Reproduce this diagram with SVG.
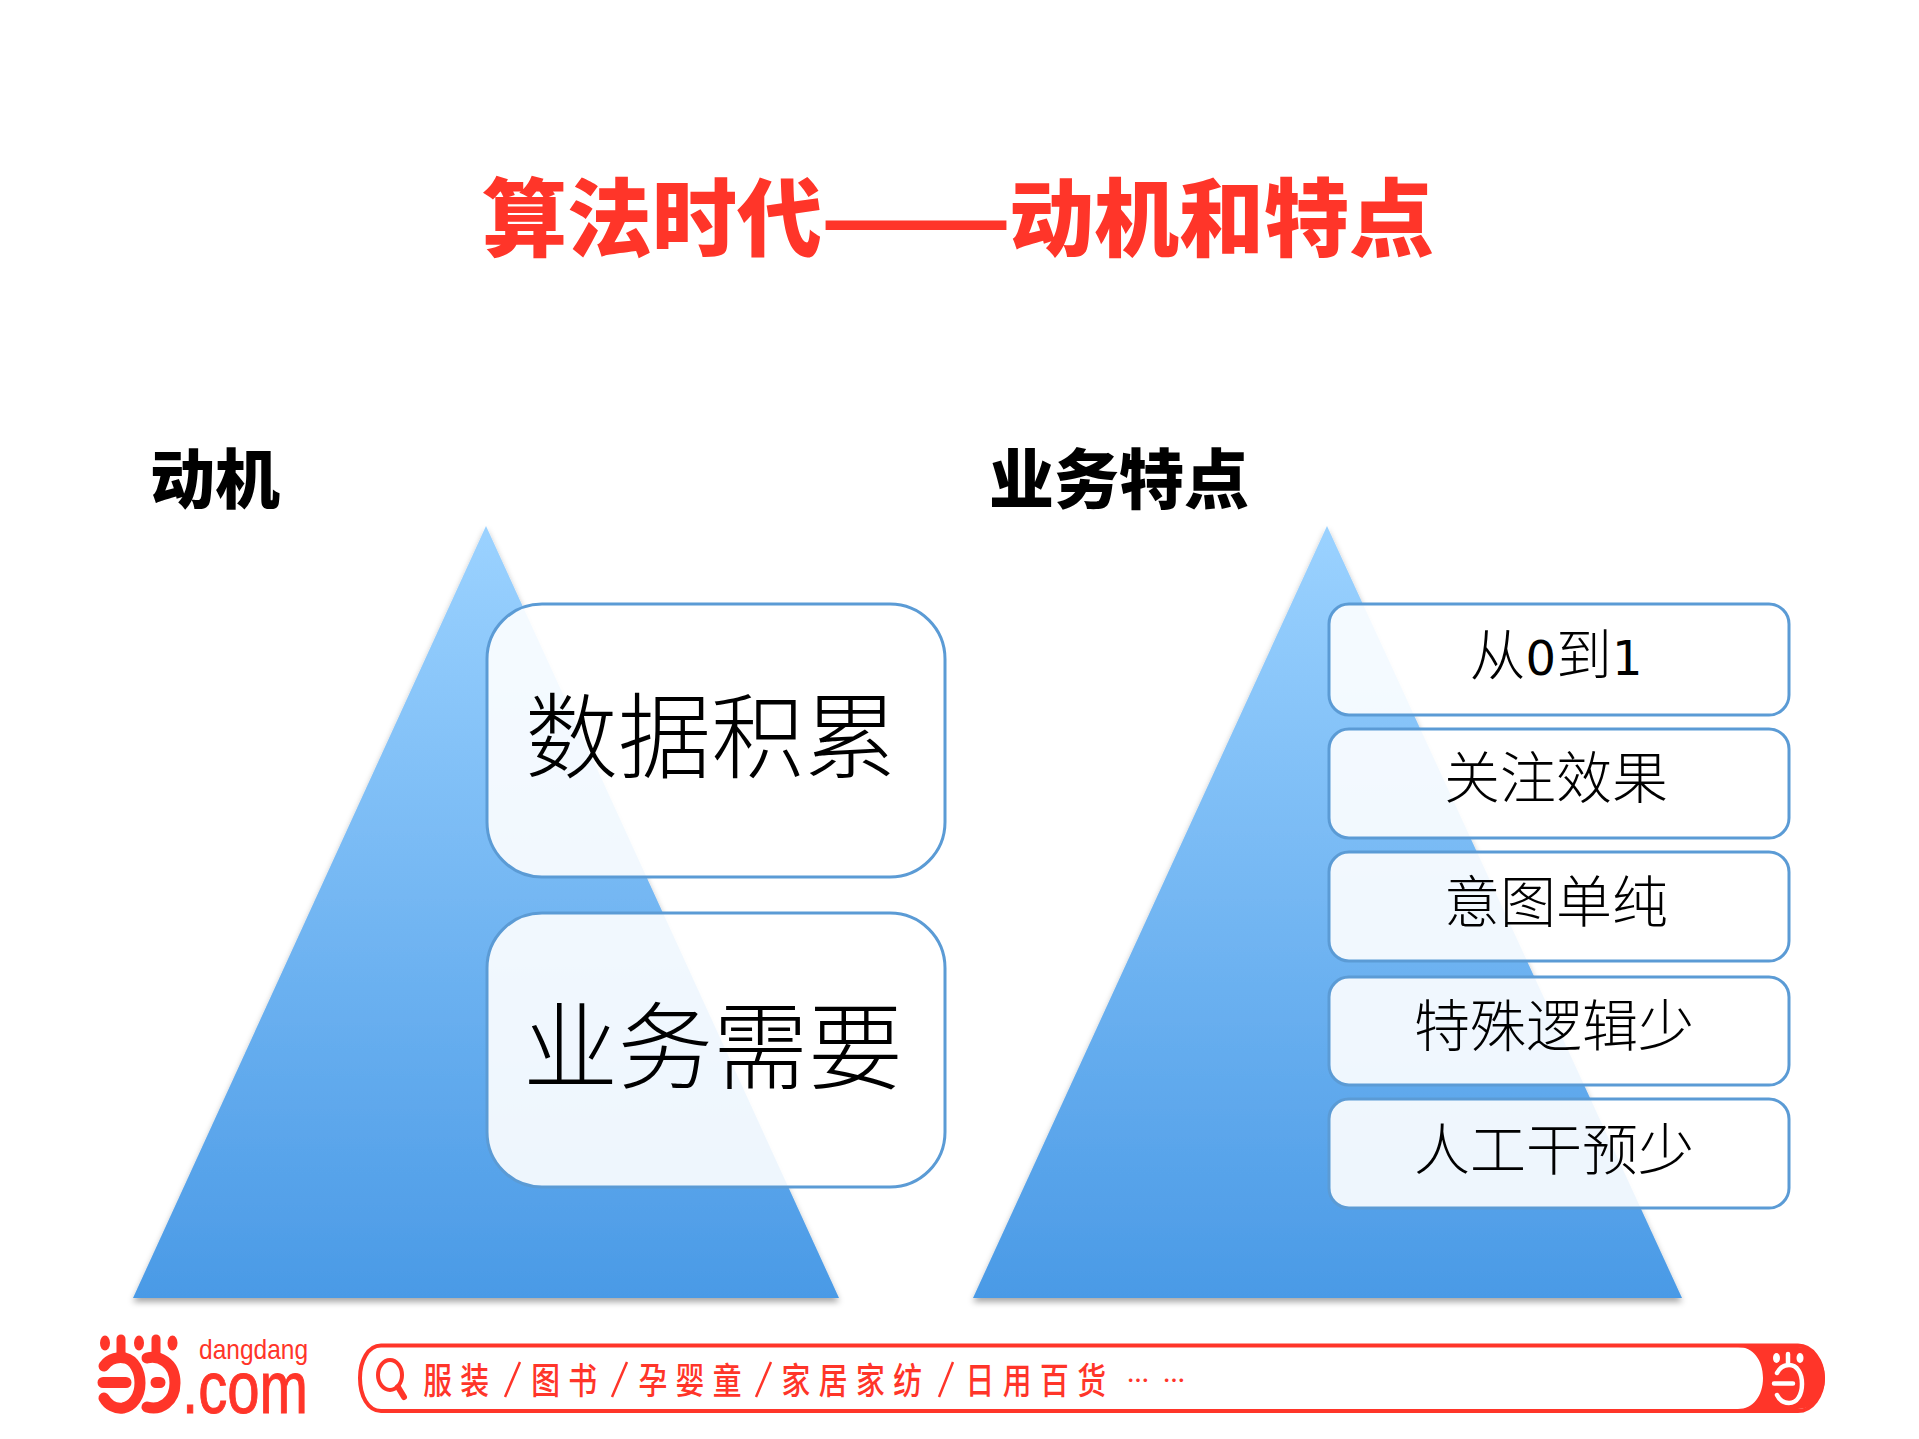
<svg xmlns="http://www.w3.org/2000/svg" width="1919" height="1439" viewBox="0 0 1919 1439">
<style>
text{font-family:"Noto Sans CJK SC","Noto Sans",sans-serif}
.tri{fill:url(#g);filter:url(#sh)}
.box{fill:#fff;fill-opacity:.9;stroke:#5b9bd5;stroke-width:3}
.h{font-weight:900;font-size:65px;fill:#000}
.big{font-weight:300;fill:#000;text-anchor:middle}
.mid{font-size:56px;font-weight:300;fill:#000;text-anchor:middle}
.dg{font-family:"DejaVu Sans",sans-serif;font-size:48px;font-weight:400}
.r{fill:#ff3529}
.ra{fill:none;stroke:#ff3529;stroke-linecap:round}
.wa{fill:none;stroke:#fff;stroke-linecap:round}
.bt{font-size:36px;font-weight:500;fill:#ff3529;letter-spacing:10.5px}
.sl{stroke:#ff3529;stroke-width:2.5}
.lat{font-family:"Liberation Sans",sans-serif;fill:#ff3529}
.ti{font-size:85px;font-weight:900;fill:#ff3529}
</style>
<defs>
<linearGradient id="g" x1="0" y1="0" x2="0" y2="1"><stop offset="0" stop-color="#9bd2ff"/><stop offset="1" stop-color="#4a9ae6"/></linearGradient>
<filter id="sh" x="-5%" y="-5%" width="110%" height="110%"><feDropShadow dx="0" dy="4" stdDeviation="3" flood-color="#000" flood-opacity=".35"/></filter>
</defs>
<rect width="1919" height="1439" fill="#fff"/>
<g id="title"><text class="ti" x="482" y="250">算法时代</text><text class="ti" x="820" y="250" textLength="192" lengthAdjust="spacingAndGlyphs">——</text><text class="ti" x="1009" y="250">动机和特点</text></g>
<text id="h1" class="h" x="150" y="503">动机</text>
<text id="h2" class="h" x="989" y="503">业务特点</text>
<g id="pyramid-left"><polygon class="tri" points="486,526 839,1298 133,1298"/></g>
<g id="pyramid-right"><polygon class="tri" points="1327,526 1682,1298 973,1298"/></g>
<g id="m1"><rect class="box" x="487" y="604" width="458" height="273" rx="55"/><text class="big" font-size="93" x="711" y="771">数据积累</text></g>
<g id="m2"><rect class="box" x="487" y="913" width="458" height="274" rx="55"/><text class="big" font-size="95" x="713" y="1082">业务需要</text></g>
<g id="f1"><rect class="box" x="1329" y="604" width="460" height="111" rx="20"/><text class="mid" x="1556" y="675">从<tspan class="dg">0</tspan>到<tspan class="dg">1</tspan></text></g>
<g id="f2"><rect class="box" x="1329" y="729" width="460" height="109" rx="20"/><text class="mid" x="1556" y="798">关注效果</text></g>
<g id="f3"><rect class="box" x="1329" y="852" width="460" height="109" rx="20"/><text class="mid" x="1556" y="922">意图单纯</text></g>
<g id="f4"><rect class="box" x="1329" y="977" width="460" height="108" rx="20"/><text class="mid" x="1554" y="1046">特殊逻辑少</text></g>
<g id="f5"><rect class="box" x="1329" y="1099" width="460" height="109" rx="20"/><text class="mid" x="1554" y="1170">人工干预少</text></g>
<g id="logo">
<ellipse class="r" cx="105" cy="1343" rx="5" ry="7.5"/><ellipse class="r" cx="139" cy="1343" rx="5" ry="7.5"/><ellipse class="r" cx="172.5" cy="1343" rx="5" ry="7.5"/>
<path class="ra" stroke-width="9" d="M121 1339V1356M156 1339V1356"/>
<path class="ra" stroke-width="11" d="M104 1366C110 1358 119 1357 125 1358C134 1360 140 1371 140 1383C140 1396 133 1406 123 1408C115 1409 108 1405 104 1398"/>
<path class="ra" stroke-width="11" d="M147 1358C158 1355 175 1362 175 1383C175 1402 160 1411 147 1407"/>
<path class="ra" stroke-width="11" d="M103 1382.500H126M156 1382.500H160"/>
<text class="lat" x="199" y="1359" font-size="28" textLength="109" lengthAdjust="spacingAndGlyphs">dangdang</text>
<text class="lat" x="182" y="1413" font-size="74" stroke="#ff3529" stroke-width="1" textLength="126" lengthAdjust="spacingAndGlyphs">.com</text>
</g>
<g id="searchbar">
<path d="M381 1345.500H1798C1812 1345.500 1823 1361 1823 1378C1823 1396 1812 1411 1798 1411H381C368 1411 360 1396 360 1378C360 1361 368 1345.500 381 1345.500Z" fill="#fff" stroke="#ff3529" stroke-width="4"/>
<path class="r" d="M1738 1347C1753 1347 1763 1360 1763 1378C1763 1396 1753 1409 1738 1409H1798C1812 1409 1825 1396 1825 1378C1825 1360 1812 1347 1798 1347Z"/>
<ellipse cx="1776.500" cy="1358" rx="3.500" ry="5" fill="#fff"/><ellipse cx="1800" cy="1358" rx="3.500" ry="5" fill="#fff"/>
<path class="wa" stroke-width="4.500" d="M1788 1354V1364M1777 1373C1780 1367 1785 1365 1789 1365C1797 1365 1802 1373 1802 1384C1802 1395 1797 1403 1789 1403C1785 1403 1780 1401 1777 1395M1774 1383.500H1793"/>
<ellipse cx="390" cy="1375" rx="12" ry="15" fill="none" stroke="#ff3529" stroke-width="4"/>
<path d="M398 1387L404 1397" stroke="#ff3529" stroke-width="6" stroke-linecap="round"/>
<g transform="scale(.8,1)">
<text class="bt" x="529" y="1394">服装</text>
<text class="bt" x="664" y="1394">图书</text>
<text class="bt" x="798" y="1394">孕婴童</text>
<text class="bt" x="977" y="1394">家居家纺</text>
<text class="bt" x="1207" y="1394">日用百货</text>
</g>
<path class="sl" d="M505 1397L520 1362M612 1397L627 1362M756 1397L771 1362M939 1397L953 1362"/>
<text x="1127" y="1388" font-size="22" font-weight="700" fill="#ff3529">…</text><text x="1163" y="1388" font-size="22" font-weight="700" fill="#ff3529">…</text>
</g>
</svg>
